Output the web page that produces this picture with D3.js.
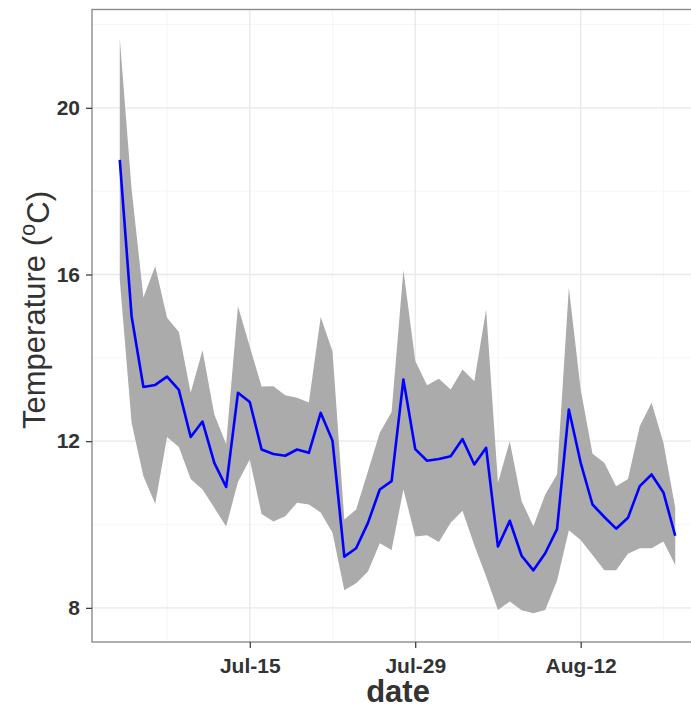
<!DOCTYPE html>
<html>
<head>
<meta charset="utf-8">
<script src="https://cdn.jsdelivr.net/npm/d3@7"></script>
<style>
  html, body { margin: 0; padding: 0; background: #fff; }
  svg { display: block; }
  text { font-family: "Liberation Sans", Arial, sans-serif; }
</style>
</head>
<body>
<svg id="chart" width="691" height="708"></svg>
<script>
// Daily water temperature, Jul 4 - Aug 20: daily mean with min/max envelope
const startDate = "2015-07-04";
const meanTemp = [18.75, 15.00, 13.30, 13.35, 13.55, 13.23, 12.10, 12.47, 11.48, 10.90,
  13.16, 12.94, 11.80, 11.69, 11.65, 11.80, 11.72, 12.68, 12.01, 9.23,
  9.43, 10.04, 10.84, 11.04, 13.48, 11.81, 11.53, 11.57, 11.64, 12.05,
  11.44, 11.84, 9.47, 10.09, 9.25, 8.90, 9.31, 9.89, 12.76, 11.48,
  10.48, 10.18, 9.90, 10.16, 10.92, 11.20, 10.77, 9.73];
const maxTemp = [21.67, 18.05, 15.45, 16.20, 14.96, 14.62, 13.16, 14.18, 12.64, 11.93,
  15.24, 14.27, 13.31, 13.32, 13.10, 13.04, 12.93, 14.98, 14.16, 10.12,
  10.36, 11.28, 12.20, 12.70, 16.11, 13.93, 13.34, 13.50, 13.24, 13.72,
  13.44, 15.16, 11.00, 12.00, 10.56, 9.96, 10.72, 11.20, 15.68, 13.24,
  11.70, 11.48, 10.92, 11.09, 12.36, 12.92, 11.96, 10.40];
const minTemp = [15.88, 12.44, 11.16, 10.50, 12.10, 11.86, 11.09, 10.84, 10.40, 9.95,
  11.02, 11.56, 10.25, 10.07, 10.20, 10.52, 10.48, 10.29, 9.80, 8.42,
  8.59, 8.87, 9.55, 9.39, 10.84, 9.71, 9.74, 9.58, 10.04, 10.33,
  9.50, 8.75, 7.95, 8.15, 7.94, 7.87, 7.95, 8.65, 9.86, 9.63,
  9.27, 8.90, 8.90, 9.30, 9.43, 9.43, 9.59, 9.03];
const xTickLabels = ["2015-07-15", "2015-07-29", "2015-08-12"];
const xMinorTicks = ["2015-07-08", "2015-07-22", "2015-08-05", "2015-08-19"];
const yTicks = [8, 12, 16, 20];
const yMinorTicks = [10, 14, 18, 22];

const parse = d3.timeParse("%Y-%m-%d");
const t0 = parse(startDate);
const rows = meanTemp.map((m, i) => ({
  date: d3.timeDay.offset(t0, i), mean: m, hi: maxTemp[i], lo: minTemp[i]
}));

const svg = d3.select("#chart");
const panel = { left: 92, top: 9.5, bottom: 642, right: 703 };

// ggplot-style 5% expansion around the data range
const xExt = d3.extent(rows, d => d.date);
const xPad = (xExt[1] - xExt[0]) * 0.05;
const x = d3.scaleTime()
  .domain([new Date(+xExt[0] - xPad), new Date(+xExt[1] + xPad)])
  .range([panel.left, panel.right]);
const yLo = d3.min(minTemp), yHi = d3.max(maxTemp);
const yPad = (yHi - yLo) * 0.05;
const y = d3.scaleLinear()
  .domain([yLo - yPad, yHi + yPad])
  .range([panel.bottom, panel.top]);

svg.append("defs").append("clipPath").attr("id", "clip")
  .append("rect").attr("x", panel.left).attr("y", panel.top)
  .attr("width", panel.right - panel.left).attr("height", panel.bottom - panel.top);

const grid = svg.append("g").attr("clip-path", "url(#clip)");
// minor grid
grid.selectAll("line.ymin").data(yMinorTicks).join("line")
  .attr("x1", panel.left).attr("x2", panel.right)
  .attr("y1", d => y(d)).attr("y2", d => y(d))
  .attr("stroke", "#f4f4f4").attr("stroke-width", 0.8);
grid.selectAll("line.xmin").data(xMinorTicks.map(parse)).join("line")
  .attr("y1", panel.top).attr("y2", panel.bottom)
  .attr("x1", d => x(d)).attr("x2", d => x(d))
  .attr("stroke", "#f4f4f4").attr("stroke-width", 0.8);
// major grid
grid.selectAll("line.ymaj").data(yTicks).join("line")
  .attr("x1", panel.left).attr("x2", panel.right)
  .attr("y1", d => y(d)).attr("y2", d => y(d))
  .attr("stroke", "#e8e8e8").attr("stroke-width", 1.3);
grid.selectAll("line.xmaj").data(xTickLabels.map(parse)).join("line")
  .attr("y1", panel.top).attr("y2", panel.bottom)
  .attr("x1", d => x(d)).attr("x2", d => x(d))
  .attr("stroke", "#e8e8e8").attr("stroke-width", 1.3);

const plot = svg.append("g").attr("clip-path", "url(#clip)");
plot.append("path").datum(rows)
  .attr("fill", "#ababab")
  .attr("d", d3.area().x(d => x(d.date)).y0(d => y(d.lo)).y1(d => y(d.hi)));
plot.append("path").datum(rows)
  .attr("fill", "none").attr("stroke", "#0000ff").attr("stroke-width", 2.6)
  .attr("stroke-linejoin", "round")
  .attr("d", d3.line().x(d => x(d.date)).y(d => y(d.mean)));

// panel border
svg.append("rect")
  .attr("x", panel.left).attr("y", panel.top)
  .attr("width", panel.right - panel.left).attr("height", panel.bottom - panel.top)
  .attr("fill", "none").attr("stroke", "#8c8c8c").attr("stroke-width", 1.4);

// axes
const xAxis = svg.append("g").attr("transform", `translate(0,${panel.bottom})`)
  .call(d3.axisBottom(x).tickValues(xTickLabels.map(parse))
    .tickFormat(d3.timeFormat("%b-%d")).tickSize(6).tickPadding(8));
const yAxis = svg.append("g").attr("transform", `translate(${panel.left},0)`)
  .call(d3.axisLeft(y).tickValues(yTicks).tickSize(6).tickPadding(6));
[xAxis, yAxis].forEach(g => {
  g.select(".domain").remove();
  g.selectAll(".tick line").attr("stroke", "#333").attr("stroke-width", 1.2);
  g.selectAll(".tick text").attr("fill", "#333")
    .style("font-size", "21px").style("font-weight", "bold")
    .style("font-family", "'Liberation Sans', Arial, sans-serif");
});
xAxis.selectAll(".tick text").attr("dy", "0.8em");

// axis titles
svg.append("text")
  .attr("x", 398).attr("y", 702)
  .attr("text-anchor", "middle")
  .attr("fill", "#333").style("font-size", "31px").style("font-weight", "bold")
  .text("date");

const yt = svg.append("text")
  .attr("transform", "translate(45,310) rotate(-90)")
  .attr("text-anchor", "middle")
  .attr("fill", "#333").style("font-size", "31px");
yt.append("tspan").text("Temperature (");
yt.append("tspan").attr("dy", "-0.45em").style("font-size", "22px").text("o");
yt.append("tspan").attr("dy", "0.45em").text("C)");
</script>
</body>
</html>
